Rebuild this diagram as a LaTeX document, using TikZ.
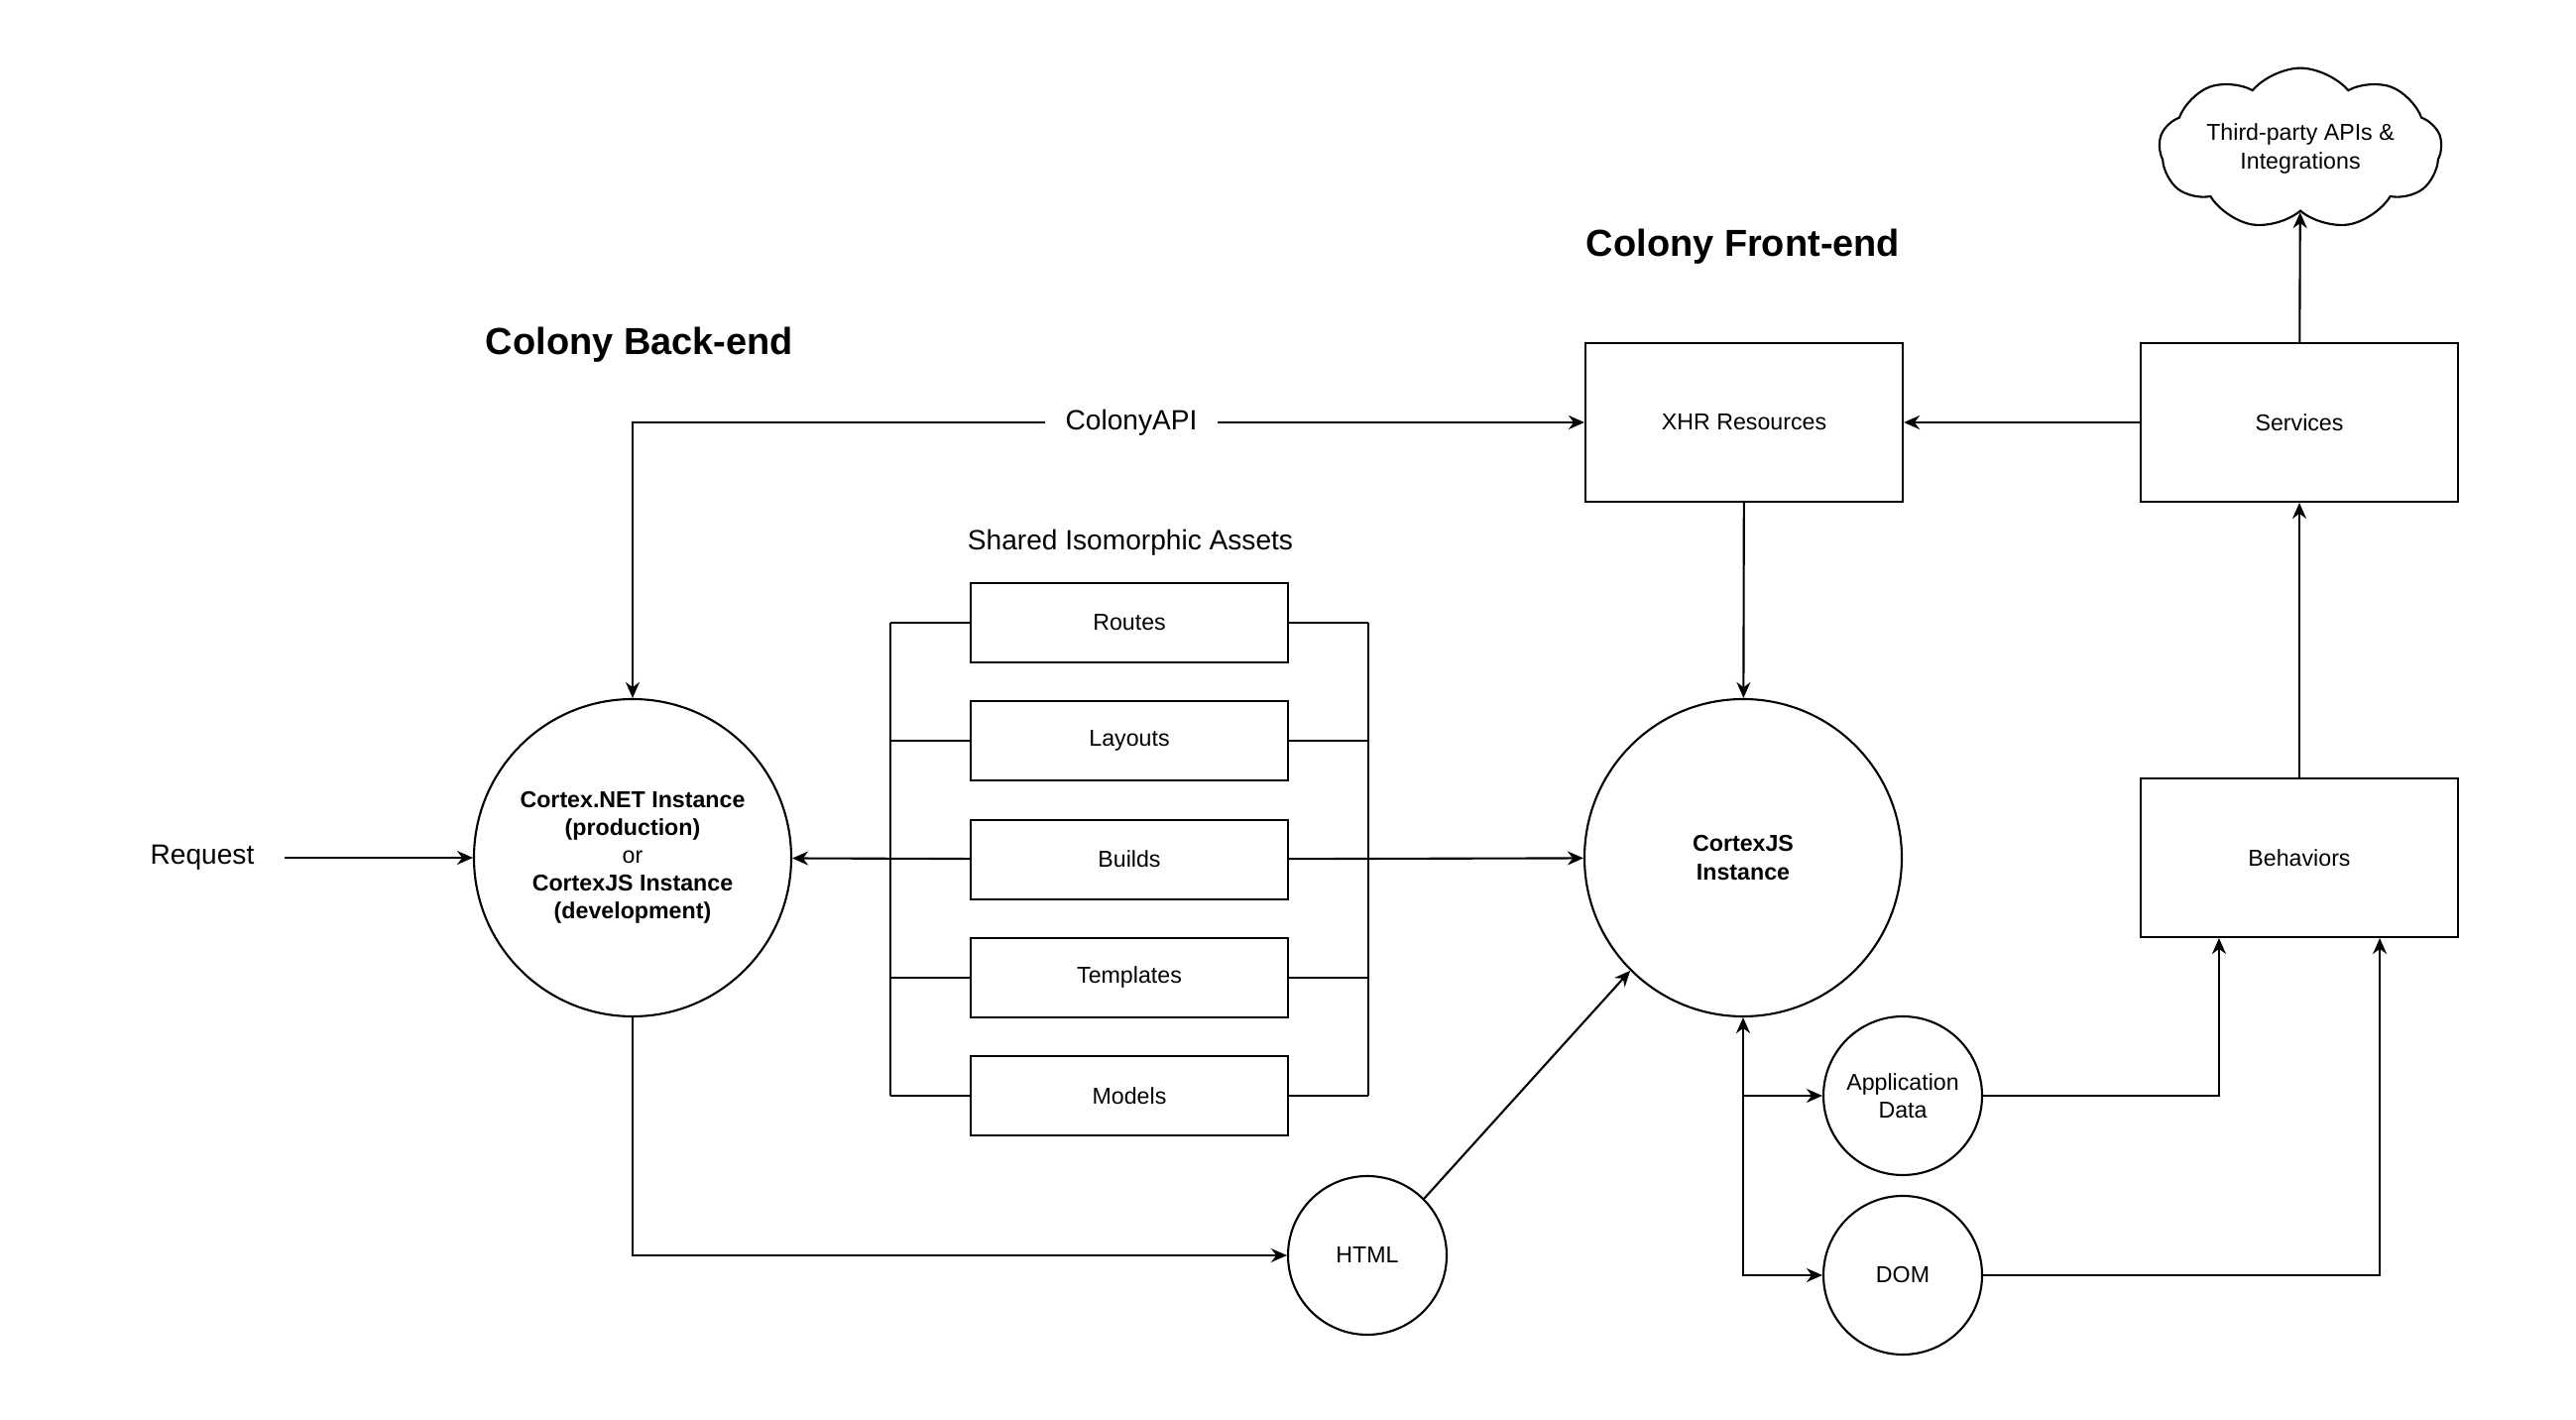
\documentclass[tikz,border=0pt]{standalone}
\usepackage{fontspec}
\setmainfont{Liberation Sans}
\usepackage{tikz}
\usetikzlibrary{arrows.meta, shapes.symbols}
\tikzset{
    base/.style={font=\fontsize{6.6}{8}\selectfont, align=center}, % text inside shapes
    box/.style={base, draw, minimum width=3.2cm, minimum height=1.6cm}, % rectangular blocks
    asset/.style={box, minimum height=0.8cm}, % shared asset blocks
    bigcirc/.style={base, draw, circle, minimum size=3.2cm, inner sep=0pt}, % main instances
    smallcirc/.style={base, draw, circle, minimum size=1.6cm, inner sep=0pt}, % small circles
    lbl/.style={font=\fontsize{8}{10}\selectfont}, % free labels
    heading/.style={font=\bfseries\fontsize{10.8}{13}\selectfont} % section headings
}

\begin{document}
\begin{tikzpicture}[line width=0.6pt, >={Stealth[length=0.16cm, width=0.14cm]}]
    \useasboundingbox (0,0) rectangle (25.98,14.32);
    \def\yc{5.67} \def\off{0.8}

    \node[heading] (backend) at (6.45,10.84) {Colony Back-end};
    \node[heading] (frontend) at (17.58,11.83) {Colony Front-end};

    \node[bigcirc, font=\bfseries\fontsize{6.6}{8}\selectfont] (cnet) at (6.38,\yc) {Cortex.NET Instance\\(production)\\{\mdseries or}\\CortexJS Instance\\(development)};
    \node[bigcirc, font=\bfseries\fontsize{6.6}{8}\selectfont] (cjs) at (17.58,\yc) {CortexJS\\Instance};
    \node[lbl, inner xsep=0.3cm] (req) at (2.04,\yc) {Request};

    \node[box] (xhr) at (17.59,10.06) {XHR Resources};
    \node[box] (serv) at (23.19,10.06) {Services};
    \node[box] (beh) at (23.19,\yc) {Behaviors};
    \node[base, draw, cloud, cloud puffs=9, cloud puff arc=100, aspect=2.1,
          minimum width=2.85cm, minimum height=1.4cm, inner sep=0pt] (cloud) at (23.2,12.82) {Third-party APIs \&\\Integrations};

    \node[lbl, fill=white, inner xsep=0.2cm] (api) at (11.41,10.06) {ColonyAPI};
    \node[lbl] (shared) at (11.40,8.85) {Shared Isomorphic Assets};

    \foreach \name/\txt [count=\i from 0] in {routes/Routes, layouts/Layouts, builds/Builds, templates/Templates, models/Models} {
        \node[asset] (\name) at (11.39,8.04-1.193*\i) {\txt};
    }
    \foreach \name in {routes, layouts, templates, models} {
        \draw (\name.west) -- ++(-\off,0);
        \draw (\name.east) -- ++(\off,0);
    }
    \draw ([xshift=-\off cm]routes.west) -- ([xshift=-\off cm]models.west);
    \draw ([xshift=\off cm]routes.east) -- ([xshift=\off cm]models.east);

    \node[smallcirc] (html) at (13.79,1.66) {HTML};
    \node[smallcirc] (appdata) at (19.19,3.27) {Application\\Data};
    \node[smallcirc] (dom) at (19.19,1.46) {DOM};

    % connectors
    \draw[->] (req) -- (cnet);
    \draw[->] (api.west) -- (cnet.north |- api) -- (cnet.north);
    \draw[->] (api) -- (xhr);
    \draw[->] (builds) -- (cnet);
    \draw[->] (builds) -- (cjs);
    \draw[->] (cnet.south) |- (html);
    \draw[->] (html.45) -- (cjs.225);
    \draw[->] (xhr) -- (cjs);
    \draw[->] (serv) -- (xhr);
    \draw[->] (serv) -- (cloud);
    \draw[->] (beh) -- (serv);
    \draw[<->] (cjs.south) |- (dom);
    \draw[->] (cjs.south |- appdata) -- (appdata);
    \draw[->] (appdata) -| ([xshift=\off cm]beh.south west);
    \draw[->] (dom) -| ([xshift=-\off cm]beh.south east);
\end{tikzpicture}
\end{document}
